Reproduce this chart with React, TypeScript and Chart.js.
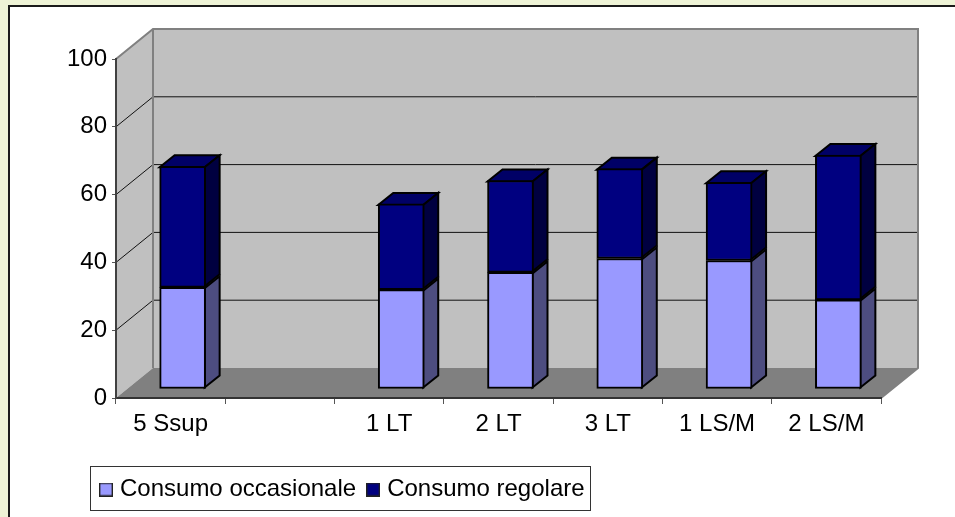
import React, { useEffect, useRef } from "react";
import { Chart, registerables } from "chart.js";

Chart.register(...registerables);

const categories = ["5 Ssup", "", "1 LT", "2 LT", "3 LT", "1 LS/M", "2 LS/M"];
const occasionale = [30.0, null, 29.3, 34.4, 38.5, 37.9, 26.3];
const regolare = [35.7, null, 25.3, 27.1, 26.5, 23.1, 42.7];
const seriesNames = ["Consumo occasionale", "Consumo regolare"];
const frontColors = ["#9999FF", "#000080"];
const sideColors = ["#4D4D80", "#000040"];
const topColors = ["#7A7ACC", "#000066"];

const DEPTH_X = 37;
const DEPTH_Y = 30;
const BAR_SHIFT_X = 12;
const BAR_SHIFT_Y = 9;
const BAR_SIDE_X = 15;
const BAR_SIDE_Y = 12;
const FONT = "'Liberation Sans', Arial, sans-serif";

function poly(ctx: CanvasRenderingContext2D, pts: number[][], fill?: string, stroke?: string, lw = 1) {
  ctx.beginPath();
  pts.forEach(([x, y], i) => (i ? ctx.lineTo(x, y) : ctx.moveTo(x, y)));
  ctx.closePath();
  if (fill) {
    ctx.fillStyle = fill;
    ctx.fill();
  }
  if (stroke) {
    ctx.strokeStyle = stroke;
    ctx.lineWidth = lw;
    ctx.stroke();
  }
}

function swatch(color: string) {
  const c = document.createElement("canvas");
  c.width = 14;
  c.height = 14;
  const g = c.getContext("2d")!;
  g.fillStyle = color;
  g.fillRect(0, 0, 14, 14);
  g.strokeStyle = "#222222";
  g.lineWidth = 1.4;
  g.strokeRect(0.7, 0.7, 12.6, 12.6);
  return c;
}

const scenePlugin = {
  id: "scene3d",
  afterLayout(chart: any) {
    chart.legend.left = 89;
  },
  beforeDraw(chart: any) {
    const { ctx, chartArea: a, width, height, scales } = chart;
    const l = a.left, r = a.right, t = a.top, b = a.bottom;
    const dx = DEPTH_X, dy = DEPTH_Y;
    ctx.save();
    ctx.fillStyle = "#EEF3D6";
    ctx.fillRect(0, 0, width, height);
    ctx.fillStyle = "#FFFFFF";
    ctx.fillRect(8, 5, width - 8, height - 5);
    ctx.strokeStyle = "#1A1A1A";
    ctx.lineWidth = 2;
    ctx.beginPath();
    ctx.moveTo(9, height);
    ctx.lineTo(9, 6);
    ctx.lineTo(width, 6);
    ctx.stroke();

    poly(ctx, [[l, b], [l, t], [l + dx, t - dy], [l + dx, b - dy]], "#C0C0C0");
    poly(ctx, [[l + dx, t - dy], [r + dx, t - dy], [r + dx, b - dy], [l + dx, b - dy]], "#C0C0C0");
    poly(ctx, [[l, b], [r, b], [r + dx, b - dy], [l + dx, b - dy]], "#808080");

    for (const v of scales.y.ticks.map((k: any) => k.value)) {
      if (v === 0 || v === 100) continue;
      const y = scales.y.getPixelForValue(v);
      ctx.strokeStyle = "#111111";
      ctx.lineWidth = 1;
      ctx.beginPath();
      ctx.moveTo(l, y);
      ctx.lineTo(l + dx, y - dy);
      ctx.lineTo(r + dx, y - dy);
      ctx.stroke();
    }
    ctx.strokeStyle = "#808080";
    ctx.lineWidth = 2;
    ctx.beginPath();
    ctx.moveTo(l, t);
    ctx.lineTo(l + dx, t - dy);
    ctx.lineTo(r + dx, t - dy);
    ctx.lineTo(r + dx, b - dy);
    ctx.lineTo(r, b);
    ctx.moveTo(l + dx, t - dy);
    ctx.lineTo(l + dx, b - dy);
    ctx.stroke();
    ctx.restore();
  },
  beforeDatasetsDraw(chart: any) {
    const { ctx } = chart;
    ctx.save();
    ctx.translate(BAR_SHIFT_X, -BAR_SHIFT_Y);
    const count = chart.data.datasets.length;
    for (let i = 0; i < count; i++) {
      chart.getDatasetMeta(i).data.forEach((el: any, idx: number) => {
        if (chart.data.datasets[i].data[idx] == null) return;
        const { x, y, base, width } = el.getProps(["x", "y", "base", "width"]);
        const xl = x - width / 2, xr = x + width / 2 - 1;
        const sx = BAR_SIDE_X, sy = BAR_SIDE_Y;
        if (i === count - 1) {
          poly(ctx, [[xl, y + 1], [xr, y + 1], [xr + sx, y + 1 - sy], [xl + sx, y + 1 - sy]], topColors[i], "#000000", 2);
        }
        poly(ctx, [[xr, y + 1], [xr + sx, y + 1 - sy], [xr + sx, base - 1 - sy], [xr, base - 1]], sideColors[i], "#000000", 2);
      });
    }
  },
  afterDatasetsDraw(chart: any) {
    chart.ctx.restore();
  },
  afterDraw(chart: any) {
    const { ctx } = chart;
    ctx.save();
    ctx.strokeStyle = "#333333";
    ctx.lineWidth = 1;
    ctx.strokeRect(90.5, 466.5, 500, 44);
    ctx.restore();
  },
};

export default function App() {
  const ref = useRef<HTMLCanvasElement | null>(null);
  useEffect(() => {
    const chart = new Chart(ref.current!, {
      type: "bar",
      data: {
        labels: categories,
        datasets: [occasionale, regolare].map((data, i) => ({
          label: seriesNames[i],
          data,
          backgroundColor: frontColors[i],
          borderColor: "#000000",
          borderWidth: 2,
          borderSkipped: false,
          barThickness: 46,
          clip: false,
        })) as any,
      },
      options: {
        animation: false,
        responsive: false,
        layout: { padding: { left: 60, right: 74, top: 59, bottom: 5.5 } },
        plugins: {
          tooltip: { enabled: false },
          legend: {
            position: "bottom",
            align: "start",
            labels: {
              usePointStyle: true,
              pointStyleWidth: 4,
              padding: 15,
              color: "#000000",
              font: { family: FONT, size: 24 },
              generateLabels: (chart: any) =>
                chart.data.datasets.map((d: any, i: number) => ({
                  text: d.label,
                  datasetIndex: i,
                  fontColor: "#000000",
                  pointStyle: swatch(frontColors[i]),
                })),
            },
          },
        },
        scales: {
          x: {
            stacked: true,
            afterFit: (s: any) => {
              s.height = 64.5;
            },
            border: { color: "#333333", width: 2 },
            grid: { drawOnChartArea: false, drawTicks: true, tickLength: 6, color: "#555555", offset: true },
            ticks: { color: "#000000", font: { family: FONT, size: 24 }, padding: 6, maxRotation: 0, autoSkip: false },
          },
          y: {
            stacked: true,
            min: 0,
            max: 100,
            afterFit: (s: any) => {
              s.width = 56;
            },
            border: { color: "#404040", width: 2 },
            grid: { drawOnChartArea: false, drawTicks: true, tickLength: 4, color: "#555555" },
            ticks: { stepSize: 20, color: "#000000", font: { family: FONT, size: 24 }, padding: 5 },
          },
        },
      },
      plugins: [scenePlugin],
    } as any);
    return () => chart.destroy();
  }, []);
  return (
    <div style={{ position: "absolute", left: 0, top: 0, width: 955, height: 517 }}>
      <canvas ref={ref} width={955} height={517} style={{ display: "block" }} />
    </div>
  );
}
